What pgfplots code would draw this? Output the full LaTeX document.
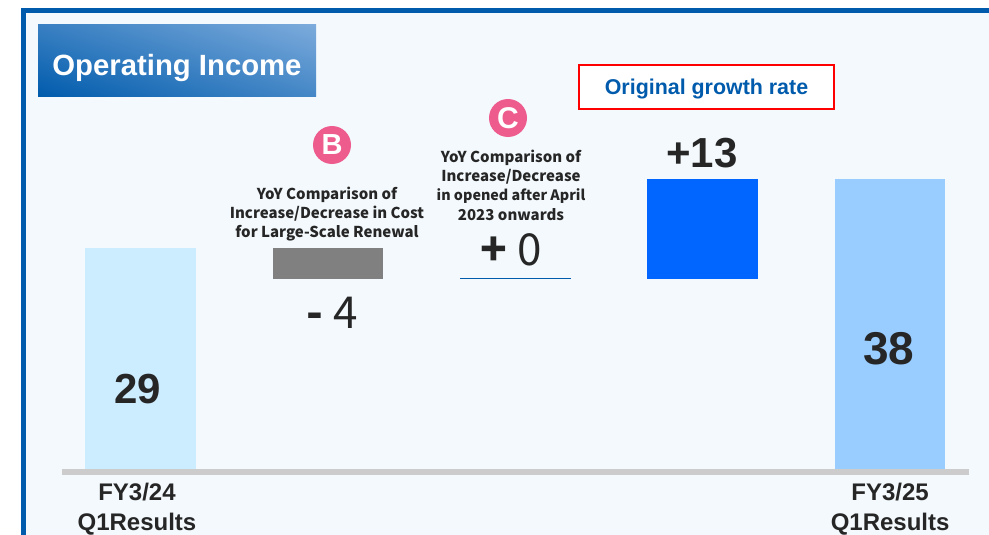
\documentclass[border=0pt]{standalone}
\usepackage{fontspec}
\usepackage{pgfplots}
\usepackage{pgfplotstable}
\pgfplotsset{compat=1.18}
\usetikzlibrary{shadings}
\setmainfont{Liberation Sans}
\newfontfamily\notefont{Noto Sans CJK JP}
\definecolor{frameblue}{HTML}{005BAC}
\definecolor{panelbg}{HTML}{F3F9FC}
\definecolor{titlelight}{HTML}{7CABDC}
\definecolor{lightbar}{HTML}{CCECFF}
\definecolor{greybar}{HTML}{808080}
\definecolor{bluebar}{HTML}{0066FF}
\definecolor{midbar}{HTML}{99CCFF}
\definecolor{baseline}{HTML}{CCCCCC}
\definecolor{pinkdot}{HTML}{EE5C8E}
\definecolor{inktext}{HTML}{262626}
\newcommand{\fs}[1]{\fontsize{#1}{#1}\selectfont}

% waterfall: invisible base, then one column per colour
\pgfplotstableread{
x base q1 renewal growth q1next
0  0  29 0 0  0
1  25 0  4 0  0
2  25 0  0 0  0
3  25 0  0 13 0
4  0  0  0 0  38
}\wf

\begin{document}
\begin{tikzpicture}
\begin{scope}[x=1pt,y=-1pt]
\fill[white] (0,0) rectangle (989,535);
\fill[frameblue] (21,8) rectangle (989,535);
\fill[panelbg] (26.3,13.3) rectangle (989,535);
\shade[lower left=frameblue,upper right=titlelight,
       upper left=frameblue!55!titlelight,lower right=frameblue!45!titlelight]
  (38,25) rectangle (316,97);
\end{scope}

\begin{axis}[
  at={(62pt,-472pt)}, anchor=south west,
  scale only axis, width=907pt, height=442pt,
  xmin=-0.419, xmax=4.421, ymin=0, ymax=57.3,
  ybar stacked, bar width=110.5pt,
  axis x line=bottom, axis y line=none,
  x axis line style={line width=5.5pt,color=baseline,-},
  axis on top,
  xtick={-0.019,4}, major tick length=0pt,
  xticklabels={{FY3/24\\Q1Results},{FY3/25\\Q1Results}},
  xticklabel style={align=center,font=\fontsize{24}{30}\selectfont\bfseries,text=inktext,
    text depth=0pt,inner sep=0pt,yshift=-10.5pt},
  clip=false]
\addplot[draw=none,fill=none] table[x=x,y=base] {\wf};
\addplot[draw=none,fill=lightbar] table[x=x,y=q1] {\wf};
\addplot[draw=none,fill=greybar] table[x=x,y=renewal] {\wf};
\addplot[draw=none,fill=bluebar] table[x=x,y=growth] {\wf};
\addplot[draw=none,fill=midbar] table[x=x,y=q1next] {\wf};
% the +0 step has no height, only its level line
\addplot[sharp plot,stack plots=false,draw=none,fill=none,mark=none,forget plot,
  postaction={draw=frameblue,line width=1.3pt}]
  coordinates {(1.705,25.05)(2.296,25.05)};
\end{axis}

\begin{scope}[x=1pt,y=-1pt,every node/.style={inner sep=0pt,align=center}]
\node[text=white,font=\fs{29.3}\bfseries] at (177,68) {Operating Income};

\draw[red,line width=2pt,fill=white] (579,65) rectangle (834,109);
\node[text=frameblue,font=\fs{21.4}\bfseries] at (706.5,89) {Original growth rate};

\fill[pinkdot] (332,145) circle (19);
\node[text=white,font=\fs{29}\bfseries] at (332,145) {B};
\fill[pinkdot] (508,118) circle (19);
\node[text=white,font=\fs{30}\bfseries] at (508,118) {C};

\begin{scope}[every node/.append style={text=inktext,font=\notefont\fs{15}\bfseries}]
\node at (327,195) {YoY Comparison of};
\node at (327,214) {Increase/Decrease in Cost};
\node at (327,233) {for Large-Scale Renewal};
\node at (511,158) {YoY Comparison of};
\node at (511,177) {Increase/Decrease};
\node[font=\notefont\fs{14.3}\bfseries] at (511,196) {in opened after April};
\node at (511,215) {2023 onwards};
\end{scope}

\node[text=inktext,font=\notefont\fs{44}] at (332,313) {\textbf{-} 4};
\node[text=inktext,font=\notefont\fs{44}] at (511,250) {\textbf{+} 0};
\node[text=inktext,font=\fs{42}\bfseries] at (702,153) {+13};
\node[text=inktext,font=\fs{42}\bfseries] at (137.5,389) {29};
\node[text=inktext,font=\fs{46}\bfseries] at (889,349) {38};
\end{scope}
\end{tikzpicture}
\end{document}
